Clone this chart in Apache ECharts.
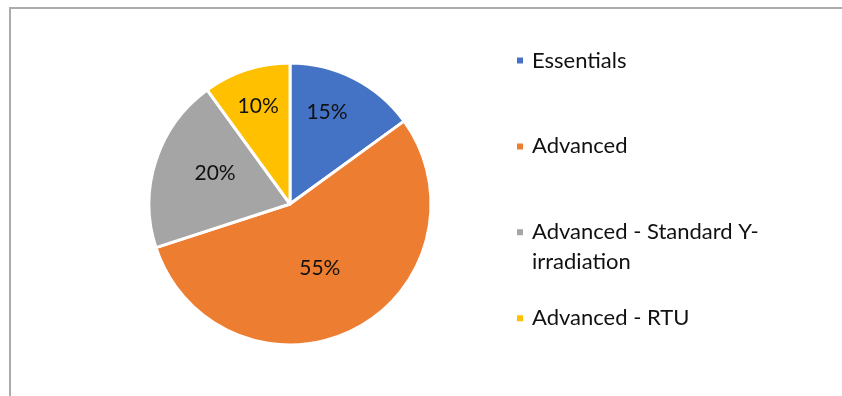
<!DOCTYPE html>
<html>
<head>
<meta charset="utf-8">
<script src="https://cdn.jsdelivr.net/npm/echarts@6/dist/echarts.min.js"></script>
<style>html,body{margin:0;padding:0;background:#fff;}#c{width:842px;height:396px;}</style>
</head>
<body>
<div id="c"></div>
<script>
const categories = ['Essentials', 'Advanced', 'Advanced - Standard Y-irradiation', 'Advanced - RTU'];
const legendLabels = ['Essentials', 'Advanced', ' \nAdvanced - Standard Y-\nirradiation', 'Advanced - RTU'];
const values = [15, 55, 20, 10];
const colors = ['#4472C4', '#ED7D31', '#A5A5A5', '#FFC000'];

const CX = 290, CY = 204, R = 141;
const FONT = 'Lato';
const labelRadius = [0.70, 0.50, 0.575, 0.73];
const labelAngleShift = [-5, 2, 4.5, 0];
const legendTops = [45.5, 131.4, 187.3, 303.3];

const chart = echarts.init(document.getElementById('c'), null, {renderer: 'canvas'});

const legends = categories.map((name, i) => ({
  data: [name],
  orient: 'vertical',
  left: 515,
  top: legendTops[i],
  padding: 0,
  selectedMode: false,
  icon: 'rect',
  itemWidth: 8,
  itemHeight: 8,
  formatter: () => legendLabels[i],
  textStyle: {
    fontFamily: FONT,
    fontSize: 22,
    color: '#111',
    lineHeight: 30,
    padding: [0, 0, 0, 3]
  }
}));

chart.setOption({
  animation: false,
  color: colors,
  graphic: [{
    type: 'rect',
    shape: {x: 10, y: 8, width: 900, height: 500},
    style: {fill: 'none', stroke: '#ABABAB', lineWidth: 2},
    silent: true
  }],
  legend: legends,
  series: [{
    type: 'pie',
    center: [CX, CY],
    radius: R,
    startAngle: 90,
    clockwise: true,
    itemStyle: {borderColor: '#fff', borderWidth: 3},
    label: {
      show: true,
      position: 'inside',
      formatter: '{d}%',
      fontFamily: FONT,
      fontSize: 21,
      color: '#111'
    },
    labelLine: {show: false},
    emphasis: {disabled: true},
    labelLayout: function (p) {
      const r = p.labelRect;
      const lx = r.x + r.width / 2, ly = r.y + r.height / 2;
      const a = Math.atan2(lx - CX, -(ly - CY)) + labelAngleShift[p.dataIndex] * Math.PI / 180;
      const d = labelRadius[p.dataIndex] * R;
      return {x: CX + d * Math.sin(a), y: CY - d * Math.cos(a), align: 'center', verticalAlign: 'middle'};
    },
    data: categories.map((name, i) => ({name: name, value: values[i]}))
  }]
});
</script>
</body>
</html>
